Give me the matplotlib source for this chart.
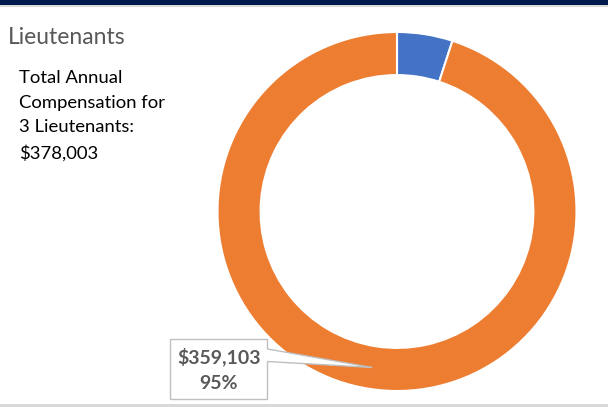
import matplotlib.pyplot as plt
import numpy as np
from matplotlib.patches import Polygon, Rectangle

# Данные: компенсация лейтенантов
labels = ["Other", "Salary"]
values = [18900, 359103]
colors = ["#4472C4", "#ED7D31"]
count = 3
title = "Lieutenants"

total = sum(values)

W, H = 608, 407
fig = plt.figure(figsize=(W / 100, H / 100), dpi=100)
fig.patch.set_facecolor("white")

def px(x, y):
    # пиксели (от верхнего левого угла) -> доли фигуры
    return x / W, (H - y) / H

# Тёмная полоса сверху и серые линии
fig.add_artist(Rectangle(px(0, 5), 1, 5 / H, transform=fig.transFigure,
                         facecolor="#001A4D", edgecolor="none"))
fig.add_artist(Rectangle(px(0, 7), 1, 2 / H, transform=fig.transFigure,
                         facecolor="#D9D9D9", edgecolor="none"))
fig.add_artist(Rectangle(px(0, 407), 1, 3 / H, transform=fig.transFigure,
                         facecolor="#D9D9D9", edgecolor="none"))

# Кольцевая диаграмма
cx, cy, r = 397, 211.5, 179.5
ax = fig.add_axes([(cx - r) / W, (H - cy - r) / H, 2 * r / W, 2 * r / H])
wedges, _ = ax.pie(values, colors=colors, startangle=90, counterclock=False,
                   radius=1, wedgeprops=dict(width=0.24, edgecolor="white", linewidth=1.5))
ax.set_xlim(-1, 1)
ax.set_ylim(-1, 1)
ax.set_aspect("equal")
ax.axis("off")

# Заголовок и итог
fig.text(*px(8, 37), title, fontsize=16.5, color="#595959", family="Lato", va="center")
fig.text(*px(19, 70), "Total Annual\nCompensation for\n%d Lieutenants:\n$%s" % (count, format(total, ",")),
         fontsize=13.3, color="black", family="Lato", va="top", linespacing=1.66)

# Выноска для оранжевого сектора
w = wedges[1]
mid = np.deg2rad((w.theta1 + w.theta2) / 2)
rm = 1 - 0.24 / 2
fig.canvas.draw()
tx, ty = ax.transData.transform((rm * np.cos(mid), rm * np.sin(mid)))
tip = (tx / W, ty / H)
x0, x1, y0, y1 = 170.5, 267.5, 339.5, 399.5
pts = [px(x0, y0), px(x1, y0), px(x1, 349), tip, px(x1, 361.5), px(x1, y1), px(x0, y1)]
fig.add_artist(Polygon(pts, closed=True, transform=fig.transFigure,
                       facecolor="white", edgecolor="#BFBFBF", linewidth=1))
pct = round(values[1] / total * 100)
fig.text(*px(219, 370), "$%s\n%d%%" % (format(values[1], ","), pct), fontsize=14,
         fontweight="bold", color="#595959", family="Lato", ha="center", va="center",
         linespacing=1.6)

fig.savefig("out.png", dpi=100)
